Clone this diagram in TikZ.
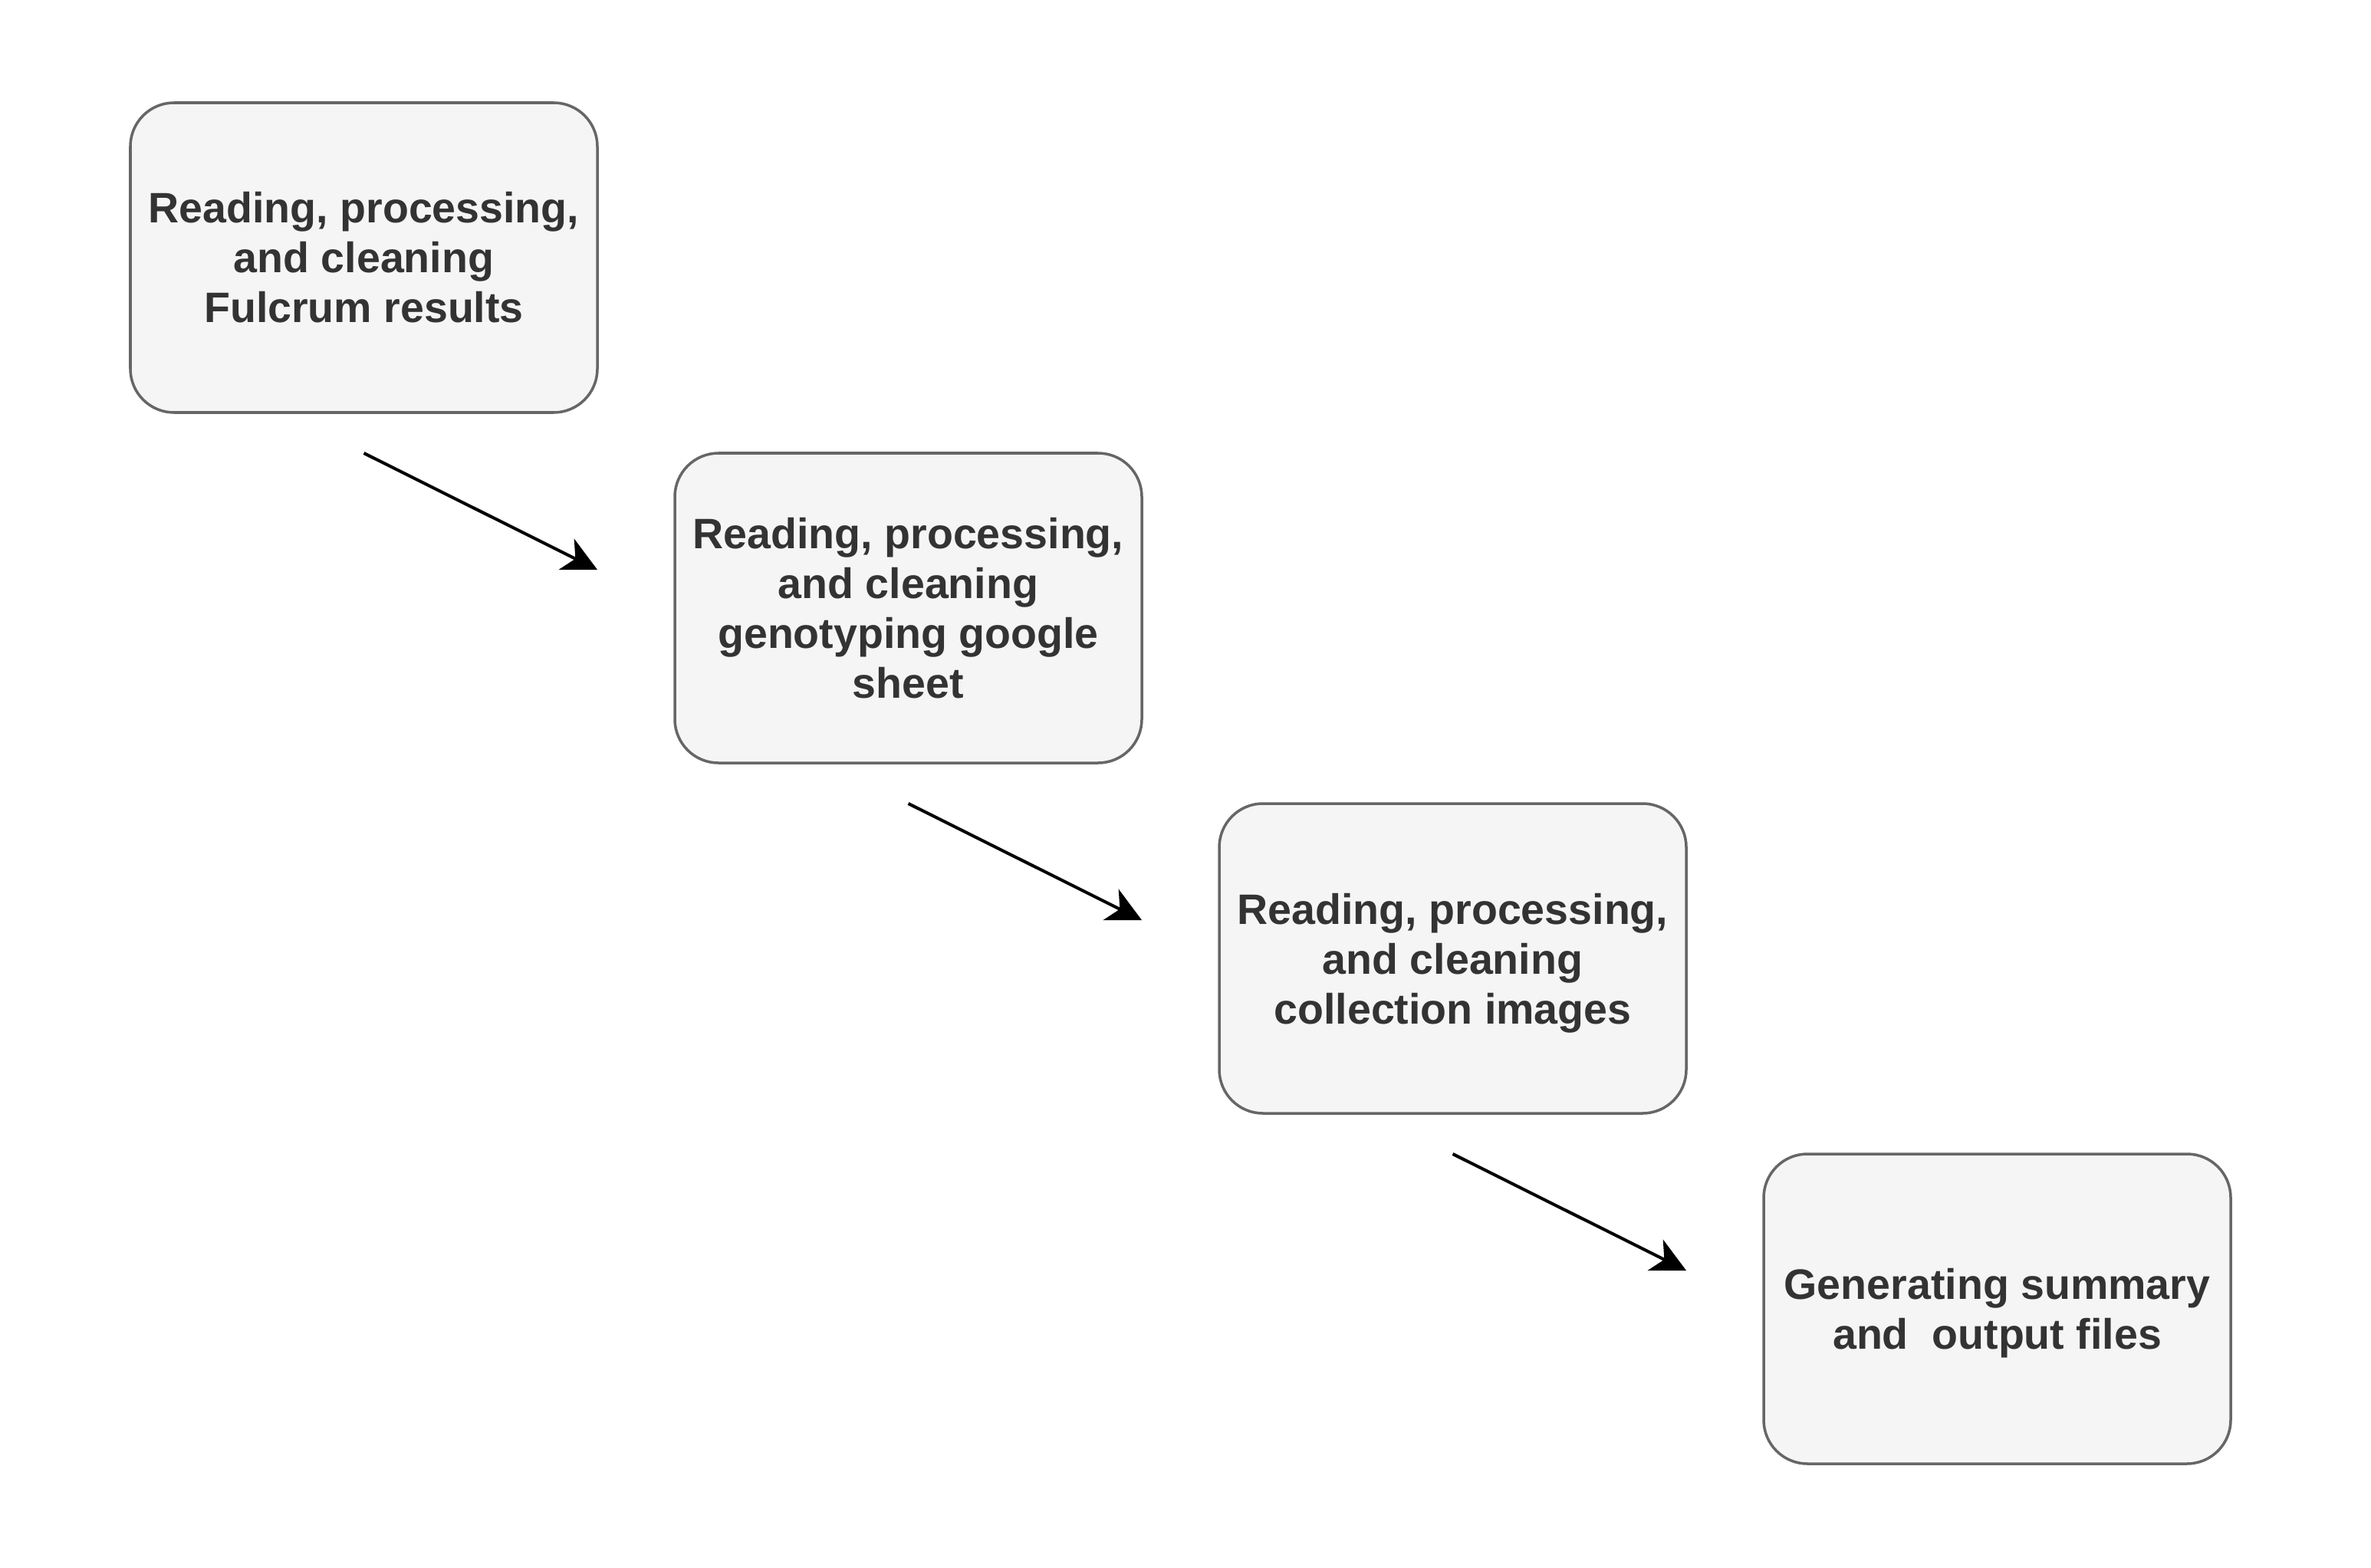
\documentclass[tikz,border=0pt]{standalone}
\usepackage{fontspec}
\setmainfont{Liberation Sans}
\usetikzlibrary{arrows.meta,calc}

\definecolor{boxfill}{HTML}{F5F5F5}
\definecolor{boxline}{HTML}{666666}
\definecolor{boxtext}{HTML}{333333}

\tikzset{
  stepbox/.style={
    draw=boxline, fill=boxfill, line width=1pt,
    rounded corners=0.57cm,
    minimum width=6.09cm, minimum height=4.04cm,
    inner sep=0pt, outer sep=0pt,
    align=center, text=boxtext,
    font=\fontsize{15.8}{18.5}\selectfont\bfseries
  },
  flow/.style={
    draw=black, line width=1.15pt,
    -{Stealth[length=0.45cm, width=0.45cm, inset=0.13cm]}
  }
}

\begin{document}
\begin{tikzpicture}
  \useasboundingbox (0,0) rectangle (30.92,-20.44);

  % processing stages, stepping down to the right
  % (descenders on a last line are smashed so every block centres alike)
  \node[stepbox] (b1) at (4.745,-3.36)
    {Reading, processing,\\and cleaning\\Fulcrum results};
  \node[stepbox] (b2) at (11.845,-7.93)
    {Reading, processing,\\and cleaning\\genotyping google\\sheet};
  \node[stepbox] (b3) at (18.945,-12.50)
    {Reading, processing,\\and cleaning\\\smash{collection images}};
  \node[stepbox] (b4) at (26.045,-17.07)
    {Generating summary\\\smash{and~ output files}};

  % free-standing arrows between consecutive stages
  \coordinate (s1) at ($(b1.south)+(0,-0.53)$);
  \coordinate (t1) at ($(b2.north west)+(-1.01,-1.52)$);
  \coordinate (s2) at ($(b2.south)+(0,-0.53)$);
  \coordinate (t2) at ($(b3.north west)+(-1.01,-1.52)$);
  \coordinate (s3) at ($(b3.south)+(0,-0.53)$);
  \coordinate (t3) at ($(b4.north west)+(-1.01,-1.52)$);

  \draw[flow] (s1) -- (t1);
  \draw[flow] (s2) -- (t2);
  \draw[flow] (s3) -- (t3);
\end{tikzpicture}
\end{document}
